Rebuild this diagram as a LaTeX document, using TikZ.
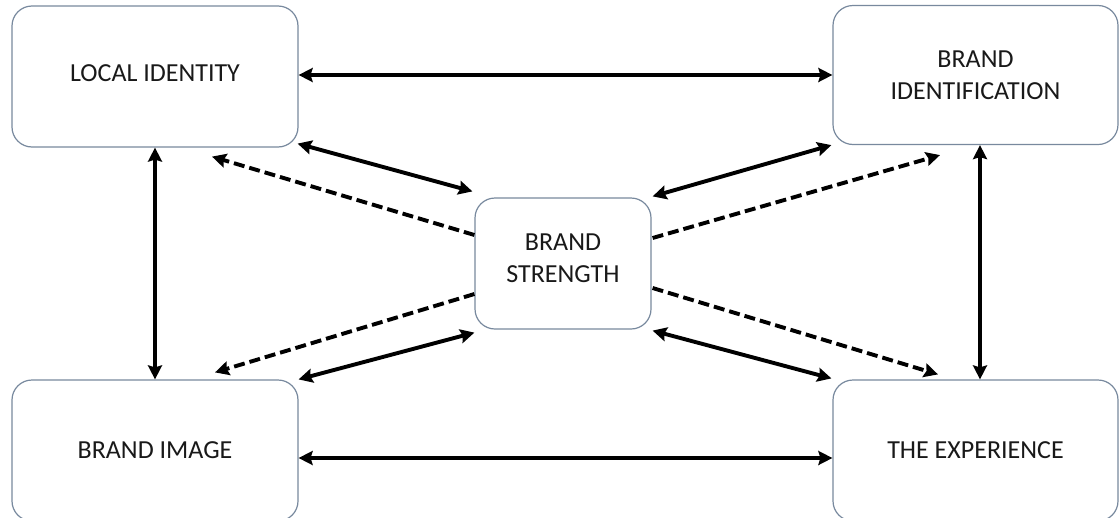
\documentclass[tikz,border=0pt]{standalone}
\usepackage{fontspec}
\setmainfont{Carlito}
\usetikzlibrary{arrows.meta,calc}
\definecolor{boxline}{RGB}{120,137,158}
\definecolor{txt}{RGB}{25,25,25}
\begin{document}
\begin{tikzpicture}[x=1pt,y=-1pt,
  box/.style={draw=boxline, line width=1.2pt, rounded corners=20pt, fill=white,
    align=center, text=txt, font=\fontsize{26}{32}\selectfont, inner sep=0pt},
  link/.style={line width=3.9pt, {Stealth[length=14pt,width=14pt,inset=2pt]}-{Stealth[length=14pt,width=14pt,inset=2pt]}},
  dlink/.style={line width=3.9pt, dash pattern=on 11pt off 5pt, -{Stealth[length=14pt,width=14pt,inset=2pt]}}]
\clip (0,0) rectangle (1119,517);
\fill[white] (0,0) rectangle (1119,517);
\node[box, minimum width=286pt, minimum height=141pt, text depth=6pt] (li) at (155,76.5) {LOCAL IDENTITY};
\node[box, minimum width=285pt, minimum height=139pt] (bi) at (975.5,75) {BRAND\\IDENTIFICATION};
\node[box, minimum width=176pt, minimum height=131pt, text depth=11pt] (bs) at (563,263.5) {BRAND\\STRENGTH};
\node[box, minimum width=286pt, minimum height=141pt] (bim) at (155,450.5) {BRAND IMAGE};
\node[box, minimum width=285pt, minimum height=141pt] (ex) at (975.5,450.5) {THE EXPERIENCE};
% horizontal and vertical links
\draw[link] ([yshift=1.5pt]li.east) -- ([yshift=1.5pt]li.east -| bi.west);
\draw[link] ([yshift=-7.5pt]bim.east) -- ([yshift=-7.5pt]bim.east -| ex.west);
\draw[link] (li.south) -- (bim.north);
\draw[link] ([xshift=4.5pt]bi.south) -- ([xshift=4.5pt]ex.north);
% solid diagonals
\draw[link] ($(li.south east)+(-1,-4)$) -- ($(bs.north west)+(-2,-6)$);
\draw[link] ($(bim.north east)+(0,0)$) -- ($(bs.south west)+(0,3)$);
\draw[link] ($(bs.north east)+(1,-1)$) -- ($(bi.south west)+(-1,0)$);
\draw[link] ($(bs.south east)+(1,1)$) -- ($(ex.north west)+(-1,-1)$);
% dashed diagonals
\draw[dlink] ($(bs.west)+(0,-28.5)$) -- ($(li.south)+(57,9)$);
\draw[dlink] ($(bs.west)+(0,30.5)$) -- ($(bim.north)+(60,-7)$);
\draw[dlink] ($(bs.east)+(1,-25.5)$) -- ($(bi.south)+(-35.5,10)$);
\draw[dlink] ($(bs.east)+(1,24.5)$) -- ($(ex.north)+(-37.5,-5)$);
\end{tikzpicture}
\end{document}
